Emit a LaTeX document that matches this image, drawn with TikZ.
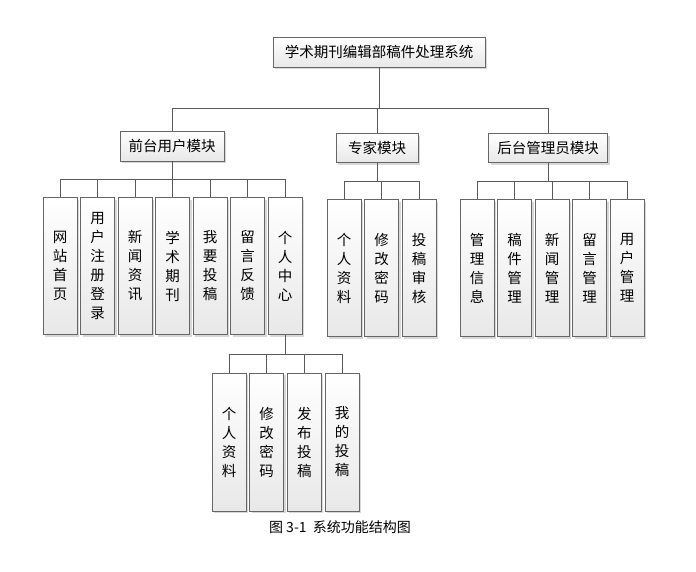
\documentclass[tikz,border=0pt]{standalone}
\usepackage{fontspec}
\setmainfont{Noto Sans CJK SC}
\usetikzlibrary{shadows}
\begin{document}
\begin{tikzpicture}[x=1pt,y=-1pt,
  box/.style={draw=gray!80!black,line width=0.7pt,top color=white,bottom color=gray!18,
    drop shadow={shadow xshift=2pt,shadow yshift=-2pt,fill=gray!60},
    inner sep=0pt,font=\fontsize{14.5}{14.5}\selectfont},
  vbox/.style={box,minimum width=34pt,minimum height=137pt,align=center,font=\fontsize{14.5}{19}\selectfont},
  conn/.style={draw=gray!70!black,line width=0.8pt}]
\useasboundingbox (0,0) rectangle (696,571);
\node[box,minimum width=212pt,minimum height=30pt] (root) at (379,52) {学术期刊编辑部稿件处理系统};
\node[box,minimum width=104pt,minimum height=30pt] (f) at (172,146) {前台用户模块};
\node[box,minimum width=82pt,minimum height=29pt] (e) at (377,148) {专家模块};
\node[box,minimum width=119pt,minimum height=29pt] (a) at (548,148) {后台管理员模块};
\draw[conn] (root.south) -- (379,108);
\draw[conn] (172,108) -- (548,108);
\foreach \n/\x in {f/172,e/377,a/548} \draw[conn] (\x,108) -- (\n.north);
% front children
\def\fy{266}
\foreach \i/\t in {0/网\\站\\首\\页,1/用\\户\\注\\册\\登\\录,2/新\\闻\\资\\讯,3/学\\术\\期\\刊,4/我\\要\\投\\稿,5/留\\言\\反\\馈,6/个\\人\\中\\心}{
  \node[vbox] (f\i) at ({60+37.5*\i},\fy) {\t};
  \draw[conn] ({60+37.5*\i},179) -- (f\i.north);}
\draw[conn] (f.south) -- (172,179);
\draw[conn] (60,179) -- (285,179);
% expert children
\foreach \i/\t in {0/个\\人\\资\\料,1/修\\改\\密\\码,2/投\\稿\\审\\核}{
  \node[vbox] (e\i) at ({344+37.5*\i},268) {\t};
  \draw[conn] ({344+37.5*\i},181) -- (e\i.north);}
\draw[conn] (e.south) -- (377,181);
\draw[conn] (344,181) -- (419,181);
% admin children
\foreach \i/\t in {0/管\\理\\信\\息,1/稿\\件\\管\\理,2/新\\闻\\管\\理,3/留\\言\\管\\理,4/用\\户\\管\\理}{
  \node[vbox] (a\i) at ({477+37.5*\i},268) {\t};
  \draw[conn] ({477+37.5*\i},181) -- (a\i.north);}
\draw[conn] (a.south) -- (548,181);
\draw[conn] (477,181) -- (627,181);
% personal center children
\foreach \i/\t in {0/个\\人\\资\\料,1/修\\改\\密\\码,2/发\\布\\投\\稿,3/我\\的\\投\\稿}{
  \node[vbox,minimum height=138pt] (p\i) at ({229+37.7*\i},442) {\t};
  \draw[conn] ({229+37.7*\i},354) -- (p\i.north);}
\draw[conn] (f6.south) -- (285,354);
\draw[conn] (229,354) -- (342,354);
\node[font=\fontsize{14}{14}\selectfont] (cap) at (340,527) {图 3-1\ \ 系统功能结构图};
\end{tikzpicture}
\end{document}
